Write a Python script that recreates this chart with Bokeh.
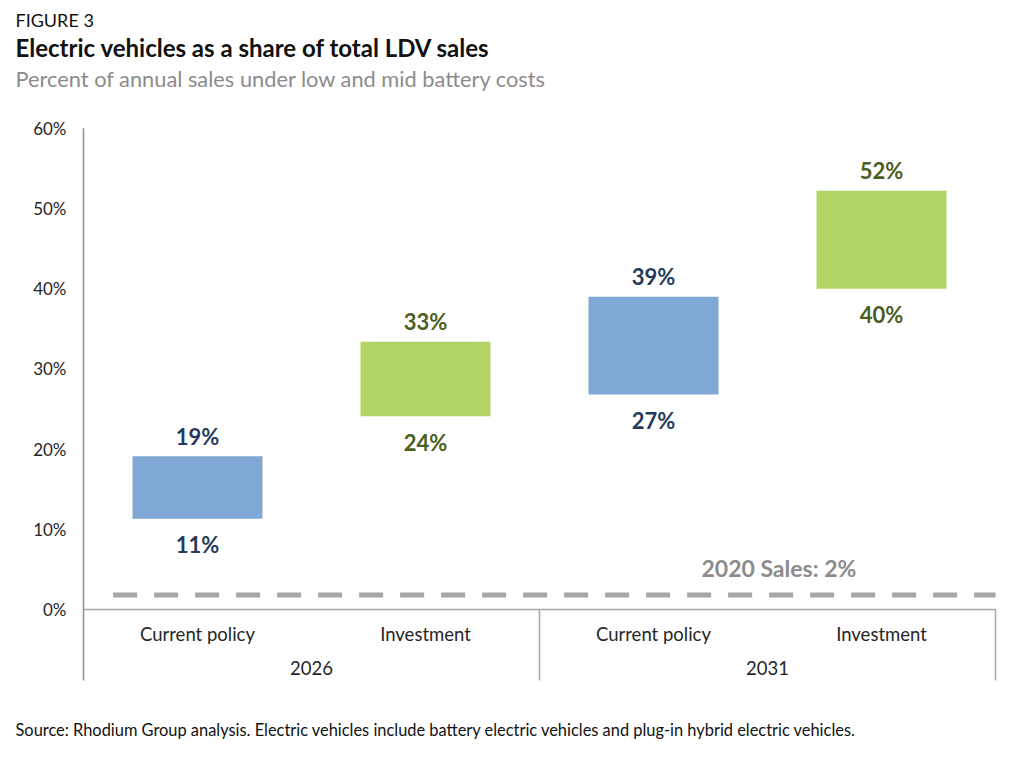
from bokeh.plotting import figure
from bokeh.models import Range1d, Label, ColumnDataSource
from bokeh.core.properties import value
from bokeh.embed import file_html
from bokeh.resources import INLINE

# ---- data ----
years = ["2026", "2026", "2031", "2031"]
scenarios = ["Current policy", "Investment", "Current policy", "Investment"]
low = [11.3, 24.1, 26.8, 40.0]
high = [19.1, 33.4, 39.0, 52.2]
low_labels = ["11%", "24%", "27%", "40%"]
high_labels = ["19%", "33%", "39%", "52%"]
bar_colors = ["#7fa8d4", "#b2d465", "#7fa8d4", "#b2d465"]
label_colors = ["#253a5c", "#4b5e21", "#253a5c", "#4b5e21"]
group_names = ["2026", "2031"]
sales_2020 = 1.8
sales_2020_label = "2020 Sales: 2%"
y_ticks = [0, 10, 20, 30, 40, 50, 60]
y_tick_labels = ["0%", "10%", "20%", "30%", "40%", "50%", "60%"]

FONT = "Lato"
W, H = 1010, 760
n = len(scenarios)
xs = [i + 0.5 for i in range(n)]
group_centers = [1, 3]
y_top = 60
y_bottom = -8.85

# layout: plot area position on the canvas (pixels)
PX_LEFT, PX_ZERO = 83, 609
PX_PER_X, PX_PER_Y = 228.0, 8.02

src = ColumnDataSource(dict(x=xs, low=low, high=high, low_label=low_labels,
                            high_label=high_labels, color=bar_colors,
                            lcolor=label_colors, scen=scenarios,
                            zero=[0] * n))

p = figure(width=W, height=H,
           x_range=Range1d(-PX_LEFT / PX_PER_X, (W - PX_LEFT) / PX_PER_X),
           y_range=Range1d(-(H - PX_ZERO) / PX_PER_Y, PX_ZERO / PX_PER_Y),
           output_backend="svg", toolbar_location=None,
           x_axis_location=None, y_axis_location=None,
           min_border=0)
p.grid.visible = False
p.outline_line_color = None
p.background_fill_color = "white"
p.border_fill_color = "white"

# y axis (line + tick labels)
p.segment(x0=0, y0=y_bottom, x1=0, y1=y_top, line_color="#8f8f8f", line_width=1.5)
p.text(x=[0] * len(y_ticks), y=y_ticks, text=y_tick_labels, x_offset=-17,
       text_align="right", text_baseline="middle", text_color="#262626",
       text_font=value(FONT), text_font_size="17px")

# bars
p.vbar(x="x", width=0.57, bottom="low", top="high", fill_color="color",
       line_color=None, source=src)

# value labels
common = dict(text_align="center", text_baseline="middle",
              text_font=value(FONT), text_font_size="22px",
              text_font_style="bold", source=src)
p.text(x="x", y="high", text="high_label", text_color="lcolor", y_offset=-20, **common)
p.text(x="x", y="low", text="low_label", text_color="lcolor", y_offset=26, **common)

# zero line & group separators
p.segment(x0=0, y0=0, x1=n, y1=0, line_color="#a6a6a6", line_width=1.5)
p.segment(x0=[2, 4], y0=[0, 0], x1=[2, 4], y1=[y_bottom, y_bottom],
          line_color="#a6a6a6", line_width=1.5)

# 2020 sales line
p.segment(x0=0.13, y0=sales_2020, x1=n, y1=sales_2020, line_color="#a6a6a6",
          line_width=5, line_dash="24 17")
p.text(x=[3.05], y=[sales_2020], text=[sales_2020_label], text_color="#8c8c8c",
       y_offset=-27, text_align="center", text_baseline="middle",
       text_font=value(FONT), text_font_size="23px", text_font_style="bold")

# category labels
p.text(x="x", y="zero", text="scen", source=src, y_offset=24,
       text_align="center", text_baseline="middle", text_color="#262626",
       text_font=value(FONT), text_font_size="18.5px")
p.text(x=group_centers, y=[0, 0], text=group_names, y_offset=58,
       text_align="center", text_baseline="middle", text_color="#262626",
       text_font=value(FONT), text_font_size="18.5px")

# titles and source (screen units from the canvas bottom-left)
def lab(px, py, text, size, color="#111111", style="normal"):
    p.add_layout(Label(x=px, y=H - py, x_units="screen", y_units="screen", text=text,
                       text_font=FONT, text_font_size=size, text_color=color,
                       text_font_style=style, text_baseline="middle",
                       text_align="left"))

lab(15, 19, "FIGURE 3", "18px")
lab(15, 47, "Electric vehicles as a share of total LDV sales", "24px", style="bold")
lab(15, 78, "Percent of annual sales under low and mid battery costs", "21.8px", color="#8c8c8c")
lab(15, 729, "Source: Rhodium Group analysis. Electric vehicles include battery electric "
    "vehicles and plug-in hybrid electric vehicles.", "16.4px", color="#111111")

open("out.html", "w").write(file_html(p, INLINE))
